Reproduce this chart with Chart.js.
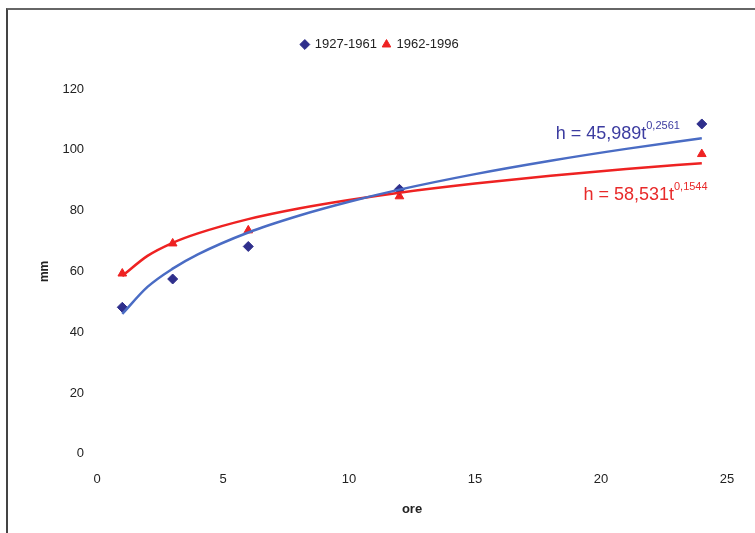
<!DOCTYPE html>
<html>
<head>
<meta charset="utf-8">
<script src="https://cdn.jsdelivr.net/npm/chart.js@4/dist/chart.umd.min.js"></script>
<style>
  html, body { margin: 0; padding: 0; background: #fff; }
  #wrap { position: relative; width: 755px; height: 533px; }
  #frame { position: absolute; left: 6px; top: 8px; right: -2px; bottom: -2px;
           border-left: 2px solid #444; border-top: 2px solid #666; }
  canvas { position: absolute; left: 0; top: 0; }
</style>
</head>
<body>
<div id="wrap">
  <div id="frame"></div>
  <canvas id="c" width="755" height="533"></canvas>
</div>
<script>
// ore (hours)
const hours = [1, 3, 6, 12, 24];
// measured values, mm
const h1927 = [48.2, 57.5, 68.2, 87.0, 108.5];
const h1962 = [59.3, 69.2, 73.5, 84.7, 98.6];
// power trend lines
const trendHours = [1, 2, 3, 4, 6, 8, 10, 12, 15, 18, 21, 24];
const trend1927 = [46.0, 54.9, 60.9, 65.6, 72.8, 78.3, 82.9, 86.9, 92.0, 96.4, 100.3, 103.8];
const trend1962 = [58.5, 65.1, 69.4, 72.5, 77.2, 80.7, 83.5, 85.9, 88.9, 91.5, 93.7, 95.6];
const seriesNames = ["1927-1961", "1962-1996"];

const blue = "#2f2f8c";
const blueLine = "#4a6cc4";
const red = "#ee2222";

const pts = (xs, ys) => xs.map((x, i) => ({ x: x, y: ys[i] }));

// equation labels, anchored in data space
const equations = [
  { base: "h = 45,989t", exp: "0,2561", x: 18.2, y: 103.6, color: "#3c3ca0" },
  { base: "h = 58,531t", exp: "0,1544", x: 19.3, y: 83.6, color: "#e82a2a" }
];

const equationPlugin = {
  id: "equations",
  afterDatasetsDraw(chart) {
    const ctx = chart.ctx;
    const xs = chart.scales.x, ys = chart.scales.y;
    ctx.save();
    ctx.textBaseline = "alphabetic";
    ctx.textAlign = "left";
    equations.forEach(eq => {
      const px = xs.getPixelForValue(eq.x);
      const py = ys.getPixelForValue(eq.y);
      ctx.fillStyle = eq.color;
      ctx.font = "18px 'Liberation Sans', Arial, sans-serif";
      ctx.fillText(eq.base, px, py);
      const w = ctx.measureText(eq.base).width;
      ctx.font = "11px 'Liberation Sans', Arial, sans-serif";
      ctx.fillText(eq.exp, px + w, py - 10);
    });
    ctx.restore();
  }
};

// extra room between the legend and the plot
const legendGap = {
  id: "legendGap",
  beforeInit(chart) {
    const legend = chart.legend;
    const fit = legend.fit;
    legend.fit = function () {
      fit.call(legend);
      this.height += 28;
    };
  }
};

Chart.defaults.font.family = "'Liberation Sans', Arial, sans-serif";
Chart.defaults.color = "#222";

new Chart(document.getElementById("c").getContext("2d"), {
  type: "scatter",
  data: {
    datasets: [
      {
        label: seriesNames[0],
        data: pts(hours, h1927),
        pointStyle: "rectRot",
        pointRadius: 5,
        backgroundColor: blue,
        borderColor: blue,
        order: 2
      },
      {
        label: seriesNames[1],
        data: pts(hours, h1962),
        pointStyle: "triangle",
        pointRadius: 5,
        backgroundColor: red,
        borderColor: red,
        order: 2
      },
      {
        label: "trend1",
        type: "line",
        data: pts(trendHours, trend1927),
        borderColor: blueLine,
        borderWidth: 2.5,
        pointRadius: 0,
        cubicInterpolationMode: "monotone",
        fill: false,
        order: 1
      },
      {
        label: "trend2",
        type: "line",
        data: pts(trendHours, trend1962),
        borderColor: red,
        borderWidth: 2.5,
        pointRadius: 0,
        cubicInterpolationMode: "monotone",
        fill: false,
        order: 1
      }
    ]
  },
  options: {
    responsive: false,
    animation: false,
    layout: { padding: { left: 33, right: 28, top: 32, bottom: 12 } },
    plugins: {
      tooltip: { enabled: false },
      legend: {
        position: "top",
        labels: {
          filter: item => item.datasetIndex < 2,
          usePointStyle: true,
          boxWidth: 7,
          boxHeight: 7,
          padding: 6,
          font: { size: 13 },
          color: "#222"
        }
      }
    },
    scales: {
      x: {
        type: "linear",
        min: 0,
        max: 25,
        grid: { display: false },
        border: { display: false },
        ticks: { stepSize: 5, padding: 10, font: { size: 13 }, color: "#222" },
        title: { display: true, text: "ore", font: { size: 13, weight: "bold" }, color: "#222", padding: { top: 4 } }
      },
      y: {
        min: 0,
        max: 120,
        grid: { display: false },
        border: { display: false },
        ticks: { stepSize: 20, padding: 5, font: { size: 13 }, color: "#222" },
        title: { display: true, text: "mm", font: { size: 12, weight: "bold" }, color: "#222", padding: { bottom: 6 } }
      }
    }
  },
  plugins: [equationPlugin, legendGap]
});
</script>
</body>
</html>
